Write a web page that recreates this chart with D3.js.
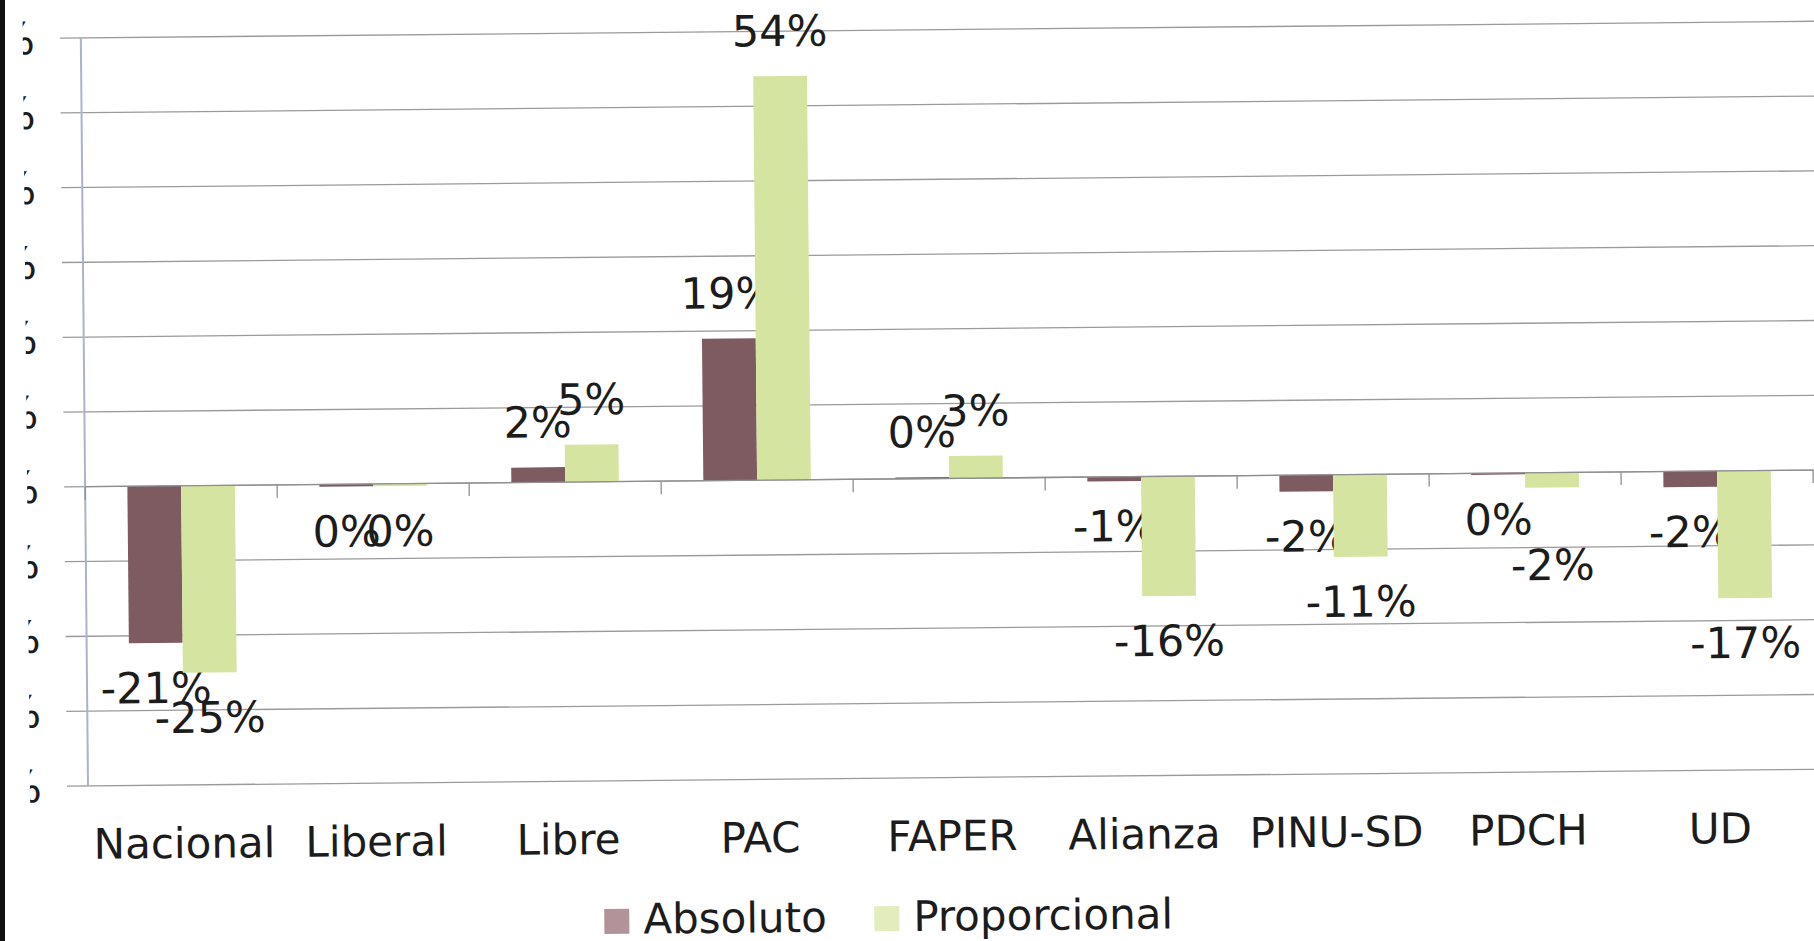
<!DOCTYPE html>
<html>
<head>
<meta charset="utf-8">
<script src="https://cdn.jsdelivr.net/npm/d3@7"></script>
<style>
  body { margin: 0; background: #fff; }
  text { font-family: "DejaVu Sans", sans-serif; fill: #1c1c1c; }
</style>
</head>
<body>
<svg id="chart"></svg>
<script>
// data
var categories = ["Nacional", "Liberal", "Libre", "PAC", "FAPER", "Alianza", "PINU-SD", "PDCH", "UD"];
var absoluto = [-21, -0.3, 2, 19, 0.2, -0.6, -2.2, -0.2, -2.1];
var proporcional = [-25, -0.3, 5, 54, 3, -16, -11, -2, -17];
var seriesNames = ["Absoluto", "Proporcional"];
var yTicks = [60, 50, 40, 30, 20, 10, 0, -10, -20, -30, -40];

var width = 1814, height = 941;
var colors = ["#7e5b60", "#d5e4a1"];
var swatchColors = ["#b3939a", "#e3ecbd"];

var svg = d3.select("#chart")
    .attr("width", width)
    .attr("height", height);

svg.append("rect").attr("width", width).attr("height", height).attr("fill", "#fff");

// the scan is a little tilted
var g = svg.append("g").attr("transform", "rotate(-0.55,907,470)");

var x0 = d3.scaleBand()
    .domain(categories)
    .range([85, 1813])
    .paddingInner(0.44)
    .paddingOuter(0.22);

var x1 = d3.scaleBand()
    .domain(seriesNames)
    .range([0, x0.bandwidth()]);

var y = d3.scaleLinear()
    .domain([-40, 60])
    .range([778, 30]);

// gridlines
g.append("g").selectAll("line")
    .data(yTicks)
  .enter().append("line")
    .attr("x1", 64)
    .attr("x2", 1830)
    .attr("y1", function(d) { return y(d); })
    .attr("y2", function(d) { return y(d); })
    .attr("stroke", "#9a9a9a")
    .attr("stroke-width", 1.3);

// y tick labels, cut off by the edge of the scan
g.append("clipPath").attr("id", "cut")
  .append("rect").attr("x", 27).attr("y", 0).attr("width", 40).attr("height", height);

g.append("g").attr("clip-path", "url(#cut)").selectAll("text")
    .data(yTicks)
  .enter().append("text")
    .attr("x", 39)
    .attr("y", function(d) { return y(d); })
    .attr("dy", "0.36em")
    .attr("text-anchor", "end")
    .style("font-size", "44px")
    .text(function(d) { return d + "%"; });

// vertical axis
g.append("line")
    .attr("x1", 85).attr("x2", 85)
    .attr("y1", y(60)).attr("y2", y(-40))
    .attr("stroke", "#aab3cc")
    .attr("stroke-width", 2);

// bars
var rows = categories.map(function(c, i) {
  return { cat: c, vals: [absoluto[i], proporcional[i]] };
});

function labelY(v) {
  return v >= 0 ? y(v) - 30 : y(v) + 60;
}

var groups = g.append("g").selectAll("g")
    .data(rows)
  .enter().append("g")
    .attr("transform", function(d) { return "translate(" + x0(d.cat) + ",0)"; });

var cells = groups.selectAll("g")
    .data(function(d) {
      var ly = d.vals.map(labelY);
      // two different negative labels too close: drop the deeper one
      if (d.vals[0] < 0 && d.vals[1] < 0 && d.vals[0] !== d.vals[1] && Math.abs(ly[0] - ly[1]) < 20) {
        var k = d.vals[0] < d.vals[1] ? 0 : 1;
        ly[k] = ly[1 - k] + 46;
      }
      return d.vals.map(function(v, j) { return { s: seriesNames[j], v: v, j: j, ly: ly[j] }; });
    })
  .enter().append("g");

cells.append("rect")
    .attr("x", function(d) { return x1(d.s); })
    .attr("width", x1.bandwidth())
    .attr("y", function(d) { return y(Math.max(0, d.v)); })
    .attr("height", function(d) { return Math.abs(y(d.v) - y(0)); })
    .attr("fill", function(d) { return colors[d.j]; });

// category axis at zero with tick marks at the band edges
g.append("line")
    .attr("x1", 85).attr("x2", 1813)
    .attr("y1", y(0)).attr("y2", y(0))
    .attr("stroke", "#8f8f8f")
    .attr("stroke-width", 1.3);

g.append("g").selectAll("line")
    .data(d3.range(categories.length + 1))
  .enter().append("line")
    .attr("x1", function(i) { return 85 + i * x0.step(); })
    .attr("x2", function(i) { return 85 + i * x0.step(); })
    .attr("y1", y(0))
    .attr("y2", y(0) + 13)
    .attr("stroke", "#8f8f8f")
    .attr("stroke-width", 1.3);

// data labels
cells.append("text")
    .attr("x", function(d) { return x1(d.s) + x1.bandwidth() / 2; })
    .attr("y", function(d) { return d.ly; })
    .attr("text-anchor", "middle")
    .style("font-size", "43px")
    .text(function(d) { return String(Math.round(d.v)) + "%"; });

// category labels
g.append("g").selectAll("text")
    .data(categories)
  .enter().append("text")
    .attr("x", function(d) { return x0(d) + x0.bandwidth() / 2; })
    .attr("y", 851)
    .attr("text-anchor", "middle")
    .style("font-size", "42px")
    .text(function(d) { return d; });

// legend
var legendX = [600, 870];
var legend = g.append("g").selectAll("g")
    .data(seriesNames)
  .enter().append("g")
    .attr("transform", function(d, i) { return "translate(" + legendX[i] + ",931)"; });

legend.append("rect")
    .attr("x", 0)
    .attr("y", -25)
    .attr("width", 25)
    .attr("height", 25)
    .attr("fill", function(d, i) { return swatchColors[i]; });

legend.append("text")
    .attr("x", 39)
    .attr("y", 0)
    .style("font-size", "42px")
    .text(function(d) { return d; });

// dark border of the scan
svg.append("rect").attr("x", 0).attr("y", 0).attr("width", 5).attr("height", height).attr("fill", "#111");
</script>
</body>
</html>
